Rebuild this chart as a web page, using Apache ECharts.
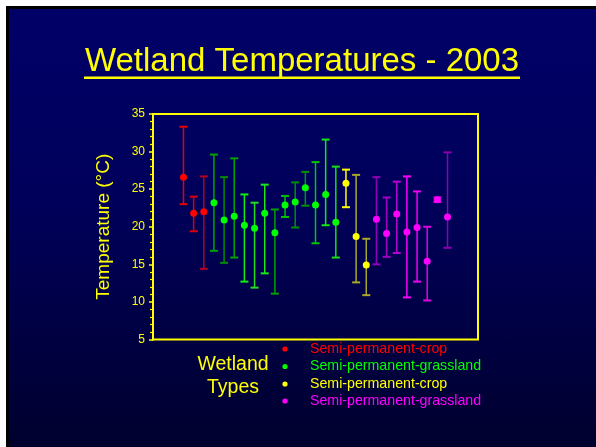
<!DOCTYPE html>
<html>
<head>
<meta charset="utf-8">
<title>Wetland Temperatures - 2003</title>
<script src="https://cdn.jsdelivr.net/npm/echarts@6/dist/echarts.min.js"></script>
<style>
  html, body { margin: 0; padding: 0; background: #ffffff; }
  #page { position: relative; width: 596px; height: 447px; overflow: hidden; background: #ffffff; }
  #edge { position: absolute; left: 6px; top: 6px; right: 0; bottom: 0; background: #000000; }
  #fill { position: absolute; left: 9px; top: 9px; right: 0; bottom: 0;
          background: linear-gradient(to bottom, #000068 0%, #00005a 45%, #00002e 100%); }
  #chart { position: absolute; left: 0; top: 0; width: 596px; height: 447px; }
</style>
</head>
<body>
<div id="page">
  <div id="edge"></div>
  <div id="fill"></div>
  <div id="chart"></div>
</div>
<script>
// Wetland temperature summaries for 2003: mean with low/high range per site.
const titleText = 'Wetland Temperatures - 2003';
const yAxisTitle = 'Temperature (°C)';
const yTicks = [5, 10, 15, 20, 25, 30, 35];
const legendHeading = ['Wetland', 'Types'];

const crop1Name = 'Semi-permanent-crop';
const crop1Mean = [26.6, 21.8, 22.0];
const crop1Low  = [23.0, 19.4, 14.4];
const crop1High = [33.3, 24.0, 26.7];

const grass1Name = 'Semi-permanent-grassland';
const grass1Mean = [23.2, 20.9, 21.4, 20.2, 19.8, 21.8, 19.2, 22.9, 23.3, 25.2, 22.9, 24.3, 20.6];
const grass1Low  = [16.8, 15.2, 15.9, 12.7, 11.9, 13.8, 11.1, 21.3, 19.9, 22.8, 17.8, 20.2, 15.9];
const grass1High = [29.6, 26.6, 29.1, 24.3, 23.2, 25.6, 22.3, 24.1, 25.9, 27.3, 28.6, 31.6, 28.0];

const crop2Name = 'Semi-permanent-crop';
const crop2Mean = [25.8, 18.7, 14.9];
const crop2Low  = [22.6, 12.6, 10.9];
const crop2High = [27.6, 26.9, 18.4];

const grass2Name = 'Semi-permanent-grassland';
const grass2Mean = [21.0, 19.1, 21.7, 19.3, 19.9, 15.4, 23.6, 21.3];
const grass2Low  = [15.0, 16.0, 16.5, 10.6, 12.7, 10.2, 23.3, 17.2];
const grass2High = [26.6, 23.9, 26.0, 26.7, 24.7, 20.0, 23.9, 29.9];

// Styling: marker colour per group, and a shade for each range bar.
const groupStyles = [
  { mark: '#ff0000', bars: ['#e60000', '#d8000c', '#b40022'] },
  { mark: '#00ff00', bars: ['#00a400', '#008c00', '#00a400', '#10f010', '#20e020', '#18ec18',
                            '#00a000', '#00c000', '#009000', '#009400', '#00c800', '#10e810', '#10e010'] },
  { mark: '#ffff00', bars: ['#ffff00', '#a8a828', '#a8a828'] },
  { mark: '#ff00ff', bars: ['#9000b4', '#a400c4', '#b800d4', '#ff00ff', '#f000f0', '#e400e4', '#d800e4', '#9000b0'] }
];

const groups = [
  { name: crop1Name,  mean: crop1Mean,  low: crop1Low,  high: crop1High },
  { name: grass1Name, mean: grass1Mean, low: grass1Low, high: grass1High },
  { name: crop2Name,  mean: crop2Mean,  low: crop2Low,  high: crop2High },
  { name: grass2Name, mean: grass2Mean, low: grass2Low, high: grass2High }
];

const FONT = '"Liberation Sans", Arial, Helvetica, sans-serif';
const YELLOW = '#ffff00';
const firstSlot = 3;       // sites sit in consecutive slots on a hidden x scale
const slotCount = 32;

function textWidth(str, size) {
  const ctx = document.createElement('canvas').getContext('2d');
  ctx.font = size + 'px ' + FONT;
  return ctx.measureText(str).width;
}

const series = [];
let slot = firstSlot;
groups.forEach(function (g, gi) {
  const style = groupStyles[gi];
  const points = [];
  const ranges = [];
  g.mean.forEach(function (m, i) {
    points.push([slot, m]);
    ranges.push([slot, g.low[i], g.high[i]]);
    slot++;
  });
  series.push({
    type: 'custom',
    name: g.name,
    z: 2,
    data: ranges,
    renderItem: function (params, api) {
      const x = api.value(0);
      const top = api.coord([x, api.value(2)]);
      const bot = api.coord([x, api.value(1)]);
      const c = style.bars[params.dataIndex];
      const half = 4;
      return {
        type: 'group',
        children: [
          { type: 'line', shape: { x1: top[0], y1: top[1], x2: bot[0], y2: bot[1] },
            style: { stroke: c, lineWidth: 1.5 } },
          { type: 'line', shape: { x1: top[0] - half, y1: top[1], x2: top[0] + half, y2: top[1] },
            style: { stroke: c, lineWidth: 2 } },
          { type: 'line', shape: { x1: bot[0] - half, y1: bot[1], x2: bot[0] + half, y2: bot[1] },
            style: { stroke: c, lineWidth: 2 } }
        ]
      };
    }
  });
  series.push({
    type: 'scatter',
    name: g.name,
    z: 3,
    symbol: 'circle',
    symbolSize: 7,
    itemStyle: { color: style.mark, opacity: 1 },
    data: points
  });
});

// Title with underline sized to the rendered text.
const titleSize = 33;
const titleX = 302;
const titleY = 62;
const titleW = textWidth(titleText, titleSize);

// Legend rows: coloured dot and label.
const legendRows = [349, 366.5, 384, 401];
const legendGraphics = [];
groups.forEach(function (g, gi) {
  legendGraphics.push({
    type: 'circle', shape: { cx: 285, cy: legendRows[gi], r: 2.6 },
    style: { fill: groupStyles[gi].mark }
  });
  legendGraphics.push({
    type: 'text', x: 310, y: legendRows[gi],
    style: { text: g.name, fill: groupStyles[gi].mark, font: '14.2px ' + FONT,
             textAlign: 'left', textVerticalAlign: 'middle' }
  });
});

const chart = echarts.init(document.getElementById('chart'), null, { renderer: 'canvas' });
chart.setOption({
  backgroundColor: 'transparent',
  animation: false,
  grid: {
    left: 153, right: 118, top: 114, bottom: 107.5,
    show: true, borderColor: YELLOW, borderWidth: 2, backgroundColor: 'transparent'
  },
  xAxis: {
    type: 'value', min: 0, max: slotCount, show: false
  },
  yAxis: {
    type: 'value',
    min: yTicks[0], max: yTicks[yTicks.length - 1], interval: 5,
    name: yAxisTitle,
    nameLocation: 'middle',
    nameGap: 40,
    nameTextStyle: { color: YELLOW, fontSize: 19, fontFamily: FONT },
    axisLine: { show: true, lineStyle: { color: YELLOW, width: 2 } },
    axisTick: { show: true, inside: false, length: 4, lineStyle: { color: YELLOW, width: 1.5 } },
    minorTick: { show: true, splitNumber: 5, length: 3, lineStyle: { color: YELLOW, width: 1.2 } },
    splitLine: { show: false },
    axisLabel: { color: YELLOW, fontSize: 12, fontFamily: FONT, margin: 8 }
  },
  series: series,
  graphic: [
    {
      type: 'text', x: titleX, y: titleY,
      style: { text: titleText, fill: YELLOW, font: titleSize + 'px ' + FONT,
               textAlign: 'center', textVerticalAlign: 'middle' }
    },
    {
      type: 'line',
      shape: { x1: titleX - titleW / 2 - 1, y1: 77.8, x2: titleX + titleW / 2 + 1, y2: 77.8 },
      style: { stroke: YELLOW, lineWidth: 2.6 }
    },
    {
      type: 'text', x: 233, y: 365,
      style: { text: legendHeading[0], fill: YELLOW, font: '19.5px ' + FONT,
               textAlign: 'center', textVerticalAlign: 'middle' }
    },
    {
      type: 'text', x: 233, y: 387.5,
      style: { text: legendHeading[1], fill: YELLOW, font: '19.5px ' + FONT,
               textAlign: 'center', textVerticalAlign: 'middle' }
    }
  ].concat(legendGraphics)
});
</script>
</body>
</html>
